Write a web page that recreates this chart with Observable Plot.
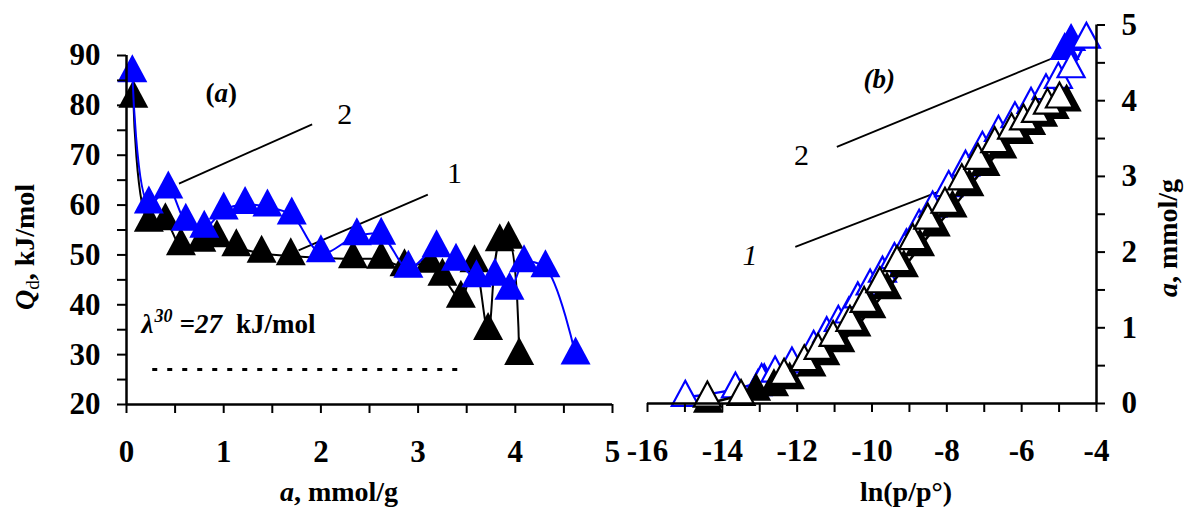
<!DOCTYPE html>
<html>
<head>
<meta charset="utf-8">
<script src="https://cdn.jsdelivr.net/npm/d3@7"></script>
<script src="https://cdn.jsdelivr.net/npm/@observablehq/plot@0.6"></script>
<style>
  html, body { margin: 0; padding: 0; background: #fff; }
  #fig { position: relative; width: 1185px; height: 510px; overflow: hidden; background: #fff; }
  #fig svg { position: absolute; top: 0; overflow: visible; }
</style>
</head>
<body>
<div id="fig"></div>
<script>
// ---- Panel (a): differential heat Qd (kJ/mol) against adsorption a (mmol/g)
const aSeries1 = [0.07, 0.23, 0.40, 0.56, 0.77, 0.93, 1.13, 1.39, 1.69, 2.33, 2.62, 2.86, 3.12, 3.25, 3.44, 3.58, 3.72, 3.84, 3.93, 4.04];
const qSeries1 = [81.4, 56.5, 56.8, 51.8, 52.5, 53.4, 51.6, 50.3, 49.8, 49.2, 49.1, 47.6, 48.3, 45.7, 41.3, 48.4, 34.8, 52.6, 53.1, 29.8];
const aSeries2 = [0.06, 0.23, 0.43, 0.61, 0.80, 1.00, 1.22, 1.45, 1.70, 2.00, 2.37, 2.62, 2.90, 3.19, 3.39, 3.60, 3.79, 3.94, 4.09, 4.31, 4.62];
const qSeries2 = [86.5, 60.2, 63.2, 56.7, 55.3, 59.0, 60.1, 59.6, 58.0, 50.4, 53.8, 53.9, 47.3, 51.4, 48.7, 45.4, 45.7, 42.9, 48.4, 47.4, 29.9];
const lambda30 = 27;              // heat of condensation, kJ/mol
const lambdaSpan = [0.27, 3.47];  // extent of the reference level along a
const aTicks = [0, 0.5, 1, 1.5, 2, 2.5, 3, 3.5, 4, 4.5, 5];
const qTicks = [20, 25, 30, 35, 40, 45, 50, 55, 60, 65, 70, 75, 80, 85, 90];

// ---- Panel (b): isotherms a (mmol/g) against ln(p/p°)
const lnOpen1 = [-14.40, -13.50, -12.35, -11.81, -11.44, -11.04, -10.59, -10.21, -9.79, -9.33, -8.91, -8.51, -8.05, -7.60, -7.17, -6.72, -6.27, -5.95, -5.63, -5.31, -4.99];
const aOpen1  = [0.07, 0.09, 0.37, 0.55, 0.70, 0.87, 1.07, 1.32, 1.58, 1.86, 2.15, 2.42, 2.63, 2.94, 3.21, 3.43, 3.61, 3.73, 3.83, 3.94, 4.02];
const lnFill1 = [-14.38, -13.10, -12.62, -12.20, -11.62, -11.25, -10.85, -10.42, -10.02, -9.60, -9.15, -8.72, -8.30, -7.85, -7.40, -6.97, -6.52, -6.08, -5.75, -5.43, -5.12, -4.80];
const aFill1  = [0.00, 0.16, 0.22, 0.31, 0.48, 0.63, 0.80, 1.01, 1.25, 1.50, 1.79, 2.07, 2.33, 2.58, 2.86, 3.13, 3.36, 3.55, 3.67, 3.78, 3.88, 3.98];
const lnOpen2 = [-14.99, -13.65, -12.95, -12.59, -12.14, -11.56, -11.21, -10.90, -10.62, -10.38, -10.05, -9.72, -9.40, -9.08, -8.74, -8.38, -7.95, -7.50, -7.05, -6.62, -6.18, -5.75, -5.35, -5.02, -4.68, -4.27];
const aOpen2  = [0.08, 0.19, 0.30, 0.40, 0.52, 0.74, 0.92, 1.07, 1.18, 1.38, 1.55, 1.72, 1.90, 2.08, 2.34, 2.58, 2.85, 3.12, 3.37, 3.58, 3.76, 3.95, 4.13, 4.28, 4.42, 4.81];
const lnFill2 = [-13.05, -12.88, -4.85, -4.68];
const aFill2  = [0.22, 0.30, 4.66, 4.78];
const lnTicks = [-16, -15, -14, -13, -12, -11, -10, -9, -8, -7, -6, -5, -4];
const isoTicks = [0, 0.5, 1, 1.5, 2, 2.5, 3, 3.5, 4, 4.5, 5];

const serif = "'Liberation Serif', 'Times New Roman', serif";
const BLUE = "#0000ff";

const rows = (xs, ys) => xs.map((x, i) => ({x, y: ys[i]}));
const s1 = rows(aSeries1, qSeries1);
const s2 = rows(aSeries2, qSeries2);
const o1 = rows(lnOpen1, aOpen1);
const f1 = rows(lnFill1, aFill1);
const o2 = rows(lnOpen2, aOpen2);
const f2 = rows(lnFill2, aFill2);

// Triangle marker (centroid on the data point)
const triangle = (w, h) => ({
  draw(ctx) {
    ctx.moveTo(0, -2 * h / 3);
    ctx.lineTo(w / 2, h / 3);
    ctx.lineTo(-w / 2, h / 3);
    ctx.closePath();
  }
});
const triA = triangle(30, 28);
const triB = triangle(27, 25);

const tickFont = {fontSize: 31, fontWeight: "bold", fontFamily: serif};

// ---------------- Panel (a)
const left = Plot.plot({
  width: 620, height: 510,
  marginLeft: 126, marginRight: 8, marginTop: 55, marginBottom: 106,
  x: {domain: [0, 5]},
  y: {domain: [20, 90]},
  style: {fontFamily: serif, background: "transparent", color: "black"},
  marks: [
    Plot.ruleY([lambda30], {x1: lambdaSpan[0], x2: lambdaSpan[1], stroke: "black", strokeWidth: 3, strokeDasharray: "5 10"}),
    Plot.link([{x1: 0.54, y1: 64.3, x2: 1.91, y2: 76.2}, {x1: 1.77, y1: 50.9, x2: 3.10, y2: 62.1}],
      {x1: "x1", y1: "y1", x2: "x2", y2: "y2", stroke: "black", strokeWidth: 1.8}),
    Plot.line(s1, {x: "x", y: "y", stroke: "black", strokeWidth: 2, curve: "catmull-rom"}),
    Plot.dot(s1, {x: "x", y: "y", symbol: triA, r: 10, fill: "black", stroke: "none"}),
    Plot.line(s2, {x: "x", y: "y", stroke: BLUE, strokeWidth: 2, curve: "catmull-rom"}),
    Plot.dot(s2, {x: "x", y: "y", symbol: triA, r: 10, fill: BLUE, stroke: "none"}),
    Plot.ruleX([0], {y1: 20, y2: 90, stroke: "black", strokeWidth: 2.5}),
    Plot.ruleY([20], {x1: 0, x2: 5, stroke: "black", strokeWidth: 2.5}),
    Plot.axisX({ticks: aTicks, tickSize: 9, tickPadding: 26, strokeWidth: 2, label: null,
      tickFormat: d => Number.isInteger(d) ? String(d) : "", ...tickFont}),
    Plot.axisY({ticks: qTicks, anchor: "left", tickSize: 9, tickPadding: 17, strokeWidth: 2, label: null,
      tickFormat: d => d % 10 === 0 ? String(d) : "", ...tickFont})
  ]
});

// ---------------- Panel (b)
const right = Plot.plot({
  width: 565, height: 510,
  marginLeft: 27, marginRight: 89, marginTop: 24.5, marginBottom: 107,
  x: {domain: [-16, -4]},
  y: {domain: [0, 5]},
  style: {fontFamily: serif, background: "transparent", color: "black"},
  marks: [
    Plot.link([{x1: -10.94, y1: 3.39, x2: -4.54, y2: 4.69}, {x1: -12.05, y1: 2.07, x2: -7.57, y2: 2.92}],
      {x1: "x1", y1: "y1", x2: "x2", y2: "y2", stroke: "black", strokeWidth: 1.8}),
    Plot.line(o2, {x: "x", y: "y", stroke: BLUE, strokeWidth: 2.5, curve: "catmull-rom"}),
    Plot.dot(f2, {x: "x", y: "y", symbol: triB, r: 10, fill: BLUE, stroke: BLUE, strokeWidth: 2}),
    Plot.dot(o2, {x: "x", y: "y", symbol: triB, r: 10, fill: "white", stroke: BLUE, strokeWidth: 2.2}),
    Plot.line(f1, {x: "x", y: "y", stroke: "black", strokeWidth: 2.5, curve: "catmull-rom"}),
    Plot.dot(f1, {x: "x", y: "y", symbol: triB, r: 10, fill: "black", stroke: "black", strokeWidth: 2}),
    Plot.dot(o1, {x: "x", y: "y", symbol: triB, r: 10, fill: "white", stroke: "black", strokeWidth: 2.2}),
    Plot.ruleX([-4], {y1: 0, y2: 5, stroke: "black", strokeWidth: 2.5}),
    Plot.ruleY([0], {x1: -16, x2: -4, stroke: "black", strokeWidth: 2.5}),
    Plot.axisX({ticks: lnTicks, tickSize: 9, tickPadding: 26, strokeWidth: 2, label: null,
      tickFormat: d => d % 2 === 0 ? String(d) : "", ...tickFont}),
    Plot.axisY({ticks: isoTicks, anchor: "right", tickSize: 8, tickPadding: 17, strokeWidth: 2, label: null,
      tickFormat: d => Number.isInteger(d) ? String(d) : "", ...tickFont})
  ]
});

const fig = d3.select("#fig");
fig.node().appendChild(left);
fig.node().appendChild(right);
d3.select(left).style("left", "0px");
d3.select(right).style("left", "620px");

// ---- Annotations placed through each panel's scales
function label(svg, plot, x, y, parts, opts = {}) {
  const sx = plot.scale("x"), sy = plot.scale("y");
  const t = d3.select(svg).append("text")
    .attr("x", sx.apply(x)).attr("y", sy.apply(y))
    .attr("font-family", serif).attr("font-size", opts.size || 28)
    .attr("text-anchor", opts.anchor || "start").attr("fill", "black");
  for (const p of parts) {
    const s = t.append("tspan").text(p.text);
    for (const k of ["font-weight", "font-style", "font-size", "dx", "dy"]) if (p[k] != null) s.attr(k, p[k]);
  }
  return t;
}

// panel (a)
label(left, left, 0.98, 80.6, [
  {text: "(", "font-weight": "bold"}, {text: "a", "font-weight": "bold", "font-style": "italic"}, {text: ")", "font-weight": "bold"}
], {anchor: "middle", size: 27});
label(left, left, 2.25, 76.2, [{text: "2"}], {anchor: "middle", size: 30});
label(left, left, 3.38, 64.3, [{text: "1"}], {anchor: "middle", size: 30});
label(left, left, 0.16, 34.2, [
  {text: "λ", "font-weight": "bold", "font-style": "italic"},
  {text: "30", "font-weight": "bold", "font-style": "italic", "font-size": 18, dy: -11, dx: 1},
  {text: "=27", "font-weight": "bold", "font-style": "italic", dy: 11, dx: 7},
  {text: "kJ/mol", "font-weight": "bold", dx: 14}
], {size: 27});

// panel (b)
label(right, right, -9.79, 4.16, [
  {text: "(", "font-weight": "bold", "font-style": "italic"}, {text: "b", "font-weight": "bold", "font-style": "italic"}, {text: ")", "font-weight": "bold", "font-style": "italic"}
], {anchor: "middle", size: 27});
label(right, right, -11.87, 3.14, [{text: "2"}], {anchor: "middle", size: 30});
label(right, right, -13.25, 1.82, [{text: "1", "font-style": "italic"}], {anchor: "middle", size: 30});

// ---- Axis titles
const L = d3.select(left), R = d3.select(right);
L.append("text").attr("x", 339).attr("y", 501).attr("text-anchor", "middle")
  .attr("font-family", serif).attr("font-size", 28).attr("font-weight", "bold")
  .call(t => { t.append("tspan").attr("font-style", "italic").text("a"); t.append("tspan").text(", mmol/g"); });
L.append("text").attr("transform", "translate(34,247) rotate(-90)").attr("text-anchor", "middle")
  .attr("font-family", serif).attr("font-size", 28).attr("font-weight", "bold")
  .call(t => {
    t.append("tspan").attr("font-style", "italic").text("Q");
    t.append("tspan").attr("font-size", 19).attr("font-weight", "normal").attr("dy", 5).text("d");
    t.append("tspan").attr("dy", -5).text(", kJ/mol");
  });
R.append("text").attr("x", 286).attr("y", 501).attr("text-anchor", "middle")
  .attr("font-family", serif).attr("font-size", 28).attr("font-weight", "bold").text("ln(p/p°)");
R.append("text").attr("transform", "translate(557,238) rotate(-90)").attr("text-anchor", "middle")
  .attr("font-family", serif).attr("font-size", 28).attr("font-weight", "bold")
  .call(t => { t.append("tspan").attr("font-style", "italic").text("a"); t.append("tspan").text(", mmol/g"); });
</script>
</body>
</html>
